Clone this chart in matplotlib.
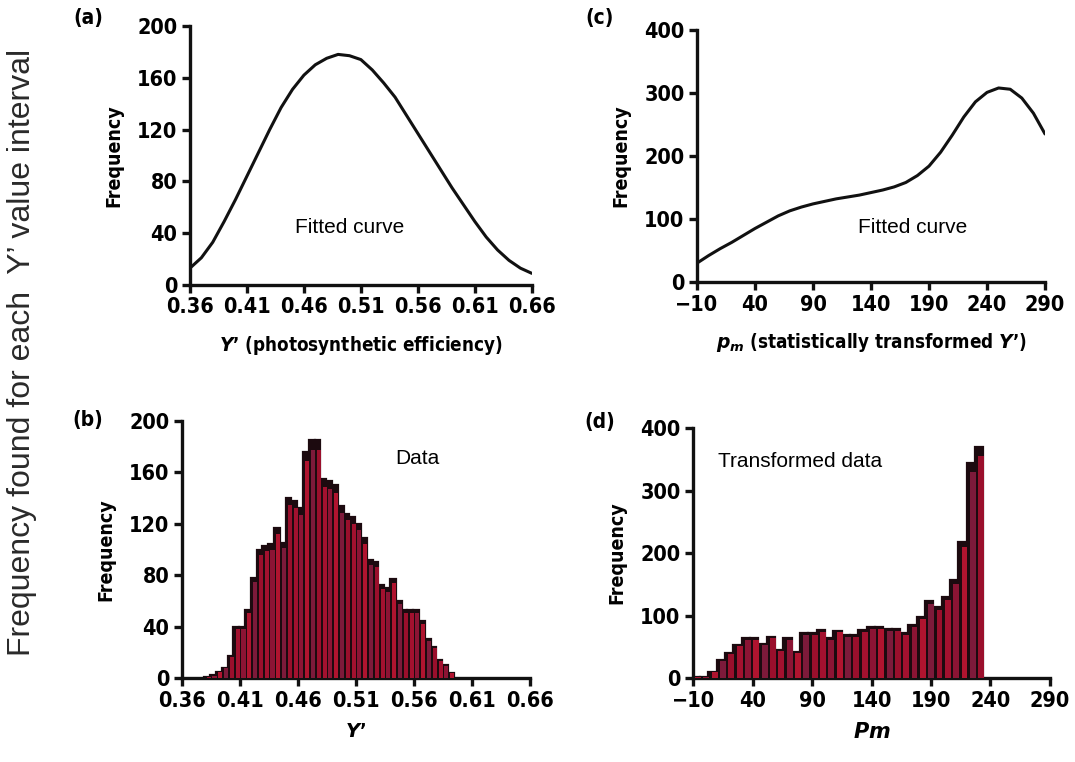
import matplotlib
matplotlib.use("Agg")
import matplotlib.pyplot as plt
import numpy as np

# ---- data -------------------------------------------------------------
# (a) fitted curve over Y'
fit_a_x = [0.36, 0.37, 0.38, 0.39, 0.40, 0.41, 0.42, 0.43, 0.44, 0.45, 0.46,
           0.47, 0.48, 0.49, 0.50, 0.51, 0.52, 0.53, 0.54, 0.55, 0.56, 0.57,
           0.58, 0.59, 0.60, 0.61, 0.62, 0.63, 0.64, 0.65, 0.66]
fit_a_y = [13, 21, 33, 49, 66, 84, 102, 120, 137, 151, 162,
           170, 175, 178, 177, 174, 166, 156, 145, 131, 117, 103,
           89, 75, 62, 49, 37, 27, 19, 13, 9]

# (b) histogram of Y'
hist_b_centers = [0.3825, 0.3875, 0.3925, 0.3975, 0.4025, 0.4075, 0.4125, 0.4175,
                  0.4225, 0.4275, 0.4325, 0.4375, 0.4425, 0.4475, 0.4525, 0.4575,
                  0.4625, 0.4675, 0.4725, 0.4775, 0.4825, 0.4875, 0.4925, 0.4975,
                  0.5025, 0.5075, 0.5125, 0.5175, 0.5225, 0.5275, 0.5325, 0.5375,
                  0.5425, 0.5475, 0.5525, 0.5575, 0.5625, 0.5675, 0.5725, 0.5775,
                  0.5825, 0.5875, 0.5925]
hist_b_counts = [1, 2, 5, 8, 17, 40, 40, 53,
                 78, 100, 103, 104, 117, 105, 140, 138,
                 132, 176, 185, 185, 155, 153, 150, 134,
                 128, 125, 120, 109, 92, 90, 72, 70,
                 77, 60, 53, 53, 53, 44, 30, 24,
                 14, 10, 4]

# (c) fitted curve over pm
fit_c_x = [-10, 0, 10, 20, 30, 40, 50, 60, 70, 80, 90, 100, 110, 120, 130, 140,
           150, 160, 170, 180, 190, 200, 210, 220, 230, 240, 250, 260, 270, 280, 290]
fit_c_y = [30, 42, 53, 63, 74, 85, 95, 105, 113, 119, 124, 128, 132, 135, 138, 142,
           146, 151, 158, 169, 184, 206, 233, 262, 286, 301, 308, 306, 292, 268, 235]

# (d) histogram of transformed data
hist_d_centers = [-6.5, 0.5, 7.5, 14.5, 21.5, 28.5, 35.5, 42.5, 49.5, 56.5, 63.5,
                  70.5, 77.5, 84.5, 91.5, 98.5, 105.5, 112.5, 119.5, 126.5, 133.5,
                  140.5, 147.5, 154.5, 161.5, 168.5, 175.5, 182.5, 189.5, 196.5,
                  203.5, 210.5, 217.5, 224.5, 231.5]
hist_d_counts = [2, 2, 10, 29, 40, 53, 64, 64, 55, 66, 45,
                 64, 42, 72, 72, 77, 64, 76, 69, 69, 77,
                 82, 82, 78, 78, 72, 85, 98, 123, 114,
                 130, 157, 218, 344, 370]

ticks_y_ab = [0, 40, 80, 120, 160, 200]
ticks_x_ab = [0.36, 0.41, 0.46, 0.51, 0.56, 0.61, 0.66]
ticks_y_cd = [0, 100, 200, 300, 400]
ticks_x_cd = [-10, 40, 90, 140, 190, 240, 290]

# ---- style ------------------------------------------------------------
plt.rcParams["mathtext.fontset"] = "custom"
plt.rcParams["mathtext.it"] = "DejaVu Sans:italic:bold"
plt.rcParams["mathtext.rm"] = "DejaVu Sans:bold"

narrow = dict(family="DejaVu Sans", fontstretch="condensed", fontweight="bold")
plain = ["Liberation Sans", "DejaVu Sans"]
tick_fs = 15.5
bar_faces = ["#a3112f", "#8c1434", "#b0142f", "#7d1a3a", "#9a0f2c"]
edge_dark = "#1c0a0f"

fig = plt.figure(figsize=(10.75, 7.62), dpi=100)
fig.patch.set_facecolor("white")


def style_axes(ax, xticks, yticks, xfmt):
    for side in ("top", "right"):
        ax.spines[side].set_visible(False)
    for side in ("left", "bottom"):
        ax.spines[side].set_linewidth(2.4)
        ax.spines[side].set_color("#111111")
    ax.set_xticks(xticks)
    ax.set_yticks(yticks)
    ax.set_xticklabels([xfmt(t) for t in xticks], fontsize=tick_fs, **narrow)
    ax.set_yticklabels([str(t) for t in yticks], fontsize=tick_fs, **narrow)
    ax.tick_params(axis="both", direction="out", length=6, width=2.4,
                   color="#111111", pad=3)
    ax.set_ylabel("Frequency", fontsize=14, labelpad=10, **narrow)


def draw_hist(ax, centers, counts, width):
    # dark shadow bars, slightly shifted, then the coloured bars on top
    ax.bar(np.array(centers) - width * 0.15, counts, width=width,
           color=edge_dark, edgecolor=edge_dark, linewidth=1.6, zorder=2)
    faces = [bar_faces[i % len(bar_faces)] for i in range(len(centers))]
    ax.bar(np.array(centers) + width * 0.1, np.array(counts) * 0.96,
           width=width * 0.7, color=faces, edgecolor="none", zorder=3)


# (a)
ax_a = fig.add_axes([0.1767, 0.626, 0.318, 0.340])
ax_a.plot(fit_a_x, fit_a_y, color="#111111", lw=2.2, solid_capstyle="round",
          solid_joinstyle="round")
ax_a.set_xlim(0.36, 0.66)
ax_a.set_ylim(0, 200)
style_axes(ax_a, ticks_x_ab, ticks_y_ab, lambda t: f"{t:.2f}")
ax_a.set_xlabel("$Y$\u2019 (photosynthetic efficiency)", fontsize=13.5,
                labelpad=12, **narrow)
ax_a.text(0.50, 44, "Fitted curve", family=plain, fontsize=15,
          ha="center", va="center")

# (b)
ax_b = fig.add_axes([0.1693, 0.1102, 0.3237, 0.3373])
draw_hist(ax_b, hist_b_centers, hist_b_counts, 0.005)
ax_b.set_xlim(0.36, 0.66)
ax_b.set_ylim(0, 200)
style_axes(ax_b, ticks_x_ab, ticks_y_ab, lambda t: f"{t:.2f}")
ax_b.set_xlabel("$Y$\u2019", fontsize=14, labelpad=8, **narrow)
ax_b.text(0.563, 171, "Data", family=plain, fontsize=15,
          ha="center", va="center")

# (c)
ax_c = fig.add_axes([0.6484, 0.6299, 0.3237, 0.3307])
ax_c.plot(fit_c_x, fit_c_y, color="#111111", lw=2.2, solid_capstyle="round",
          solid_joinstyle="round")
ax_c.set_xlim(-10, 290)
ax_c.set_ylim(0, 400)
style_axes(ax_c, ticks_x_cd, ticks_y_cd,
           lambda t: f"\u2212{abs(t)}" if t < 0 else str(t))
ax_c.set_xlabel("$p_m$ (statistically transformed $Y$\u2019)", fontsize=13.5,
                labelpad=12, **narrow)
ax_c.text(176, 86, "Fitted curve", family=plain, fontsize=15,
          ha="center", va="center")

# (d)
ax_d = fig.add_axes([0.6447, 0.1102, 0.332, 0.3281])
draw_hist(ax_d, hist_d_centers, hist_d_counts, 7)
ax_d.set_xlim(-10, 290)
ax_d.set_ylim(0, 400)
style_axes(ax_d, ticks_x_cd, ticks_y_cd,
           lambda t: f"\u2212{abs(t)}" if t < 0 else str(t))
ax_d.set_xlabel("$Pm$", fontsize=15, labelpad=8, **narrow)
ax_d.text(80, 346, "Transformed data", family=plain, fontsize=15,
          ha="center", va="center")

# panel letters
for letter, (px, py) in {"(a)": (88, 18), "(b)": (88, 420),
                         "(c)": (600, 18), "(d)": (600, 422)}.items():
    fig.text(px / 1075, 1 - py / 762, letter, fontsize=15,
             ha="center", va="center", **narrow)

# shared left-hand caption
fig.text(22 / 1075, 1 - 352 / 762,
         "Frequency found for each  Y\u2019 value interval",
         family=plain, fontsize=23, color="#2a2a2a", rotation=90,
         ha="center", va="center")

fig.savefig("out.png", dpi=100, facecolor="white")
